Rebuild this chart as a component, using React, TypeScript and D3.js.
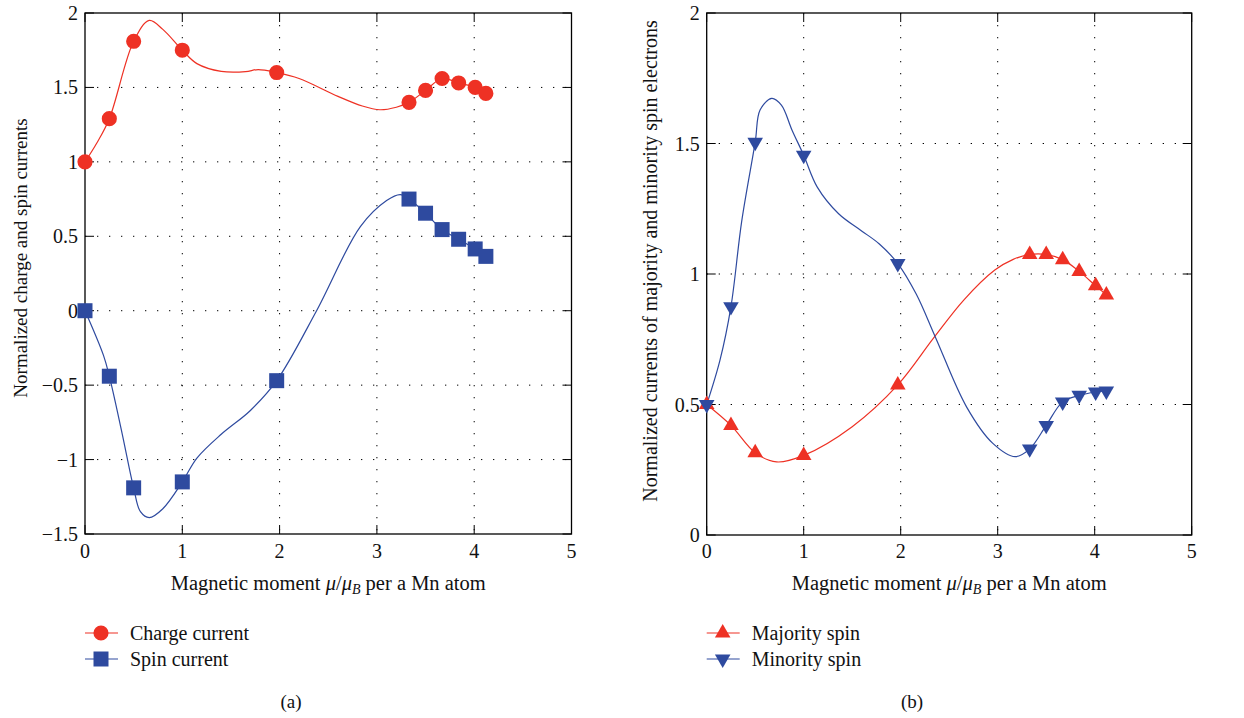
import * as d3 from "d3";

// markers: magnetic moment per Mn atom
const momentX = [0, 0.25, 0.5, 1, 1.97, 3.33, 3.5, 3.67, 3.84, 4.01, 4.12];
const chargeCurrent = [1.0, 1.29, 1.81, 1.75, 1.6, 1.4, 1.48, 1.56, 1.53, 1.5, 1.46];
const spinCurrent = [0, -0.44, -1.19, -1.15, -0.47, 0.75, 0.655, 0.545, 0.48, 0.415, 0.365];
const majoritySpin = [0.5, 0.42, 0.315, 0.305, 0.575, 1.075, 1.075, 1.055, 1.01, 0.955, 0.92];
const minoritySpin = [0.5, 0.875, 1.505, 1.455, 1.04, 0.33, 0.42, 0.51, 0.535, 0.548, 0.552];

// smooth traces, knots
const chargeCurveX = [0, 0.12, 0.25, 0.5, 0.66, 0.8, 1.0, 1.15, 1.4, 1.65, 1.78, 1.97, 2.2, 2.6, 2.85, 3.03, 3.2, 3.33, 3.5, 3.67, 3.84, 4.01, 4.12];
const chargeCurveY = [1.0, 1.125, 1.29, 1.81, 1.95, 1.89, 1.75, 1.66, 1.608, 1.606, 1.62, 1.6, 1.56, 1.44, 1.375, 1.35, 1.367, 1.4, 1.48, 1.56, 1.53, 1.5, 1.46];
const spinCurveX = [0, 0.19, 0.25, 0.38, 0.5, 0.57, 0.66, 0.8, 1.0, 1.15, 1.4, 1.7, 1.97, 2.38, 2.83, 3.1, 3.24, 3.33, 3.5, 3.67, 3.84, 4.01, 4.12];
const spinCurveY = [0, -0.3, -0.44, -0.82, -1.19, -1.35, -1.39, -1.33, -1.15, -0.99, -0.83, -0.67, -0.47, 0.0, 0.565, 0.74, 0.78, 0.75, 0.655, 0.545, 0.48, 0.415, 0.365];
const majCurveX = [0, 0.25, 0.5, 0.72, 1.0, 1.5, 1.97, 2.34, 2.65, 2.97, 3.16, 3.33, 3.5, 3.67, 3.84, 4.01, 4.12];
const majCurveY = [0.5, 0.42, 0.315, 0.28, 0.305, 0.415, 0.575, 0.755, 0.9, 1.015, 1.056, 1.075, 1.075, 1.055, 1.01, 0.955, 0.92];
const minCurveX = [0, 0.137, 0.25, 0.36, 0.5, 0.55, 0.67, 0.77, 0.88, 1.0, 1.14, 1.36, 1.59, 1.78, 1.97, 2.16, 2.36, 2.68, 2.95, 3.18, 3.33, 3.5, 3.67, 3.84, 4.01, 4.12];
const minCurveY = [0.5, 0.67, 0.875, 1.2, 1.505, 1.628, 1.673, 1.647, 1.551, 1.455, 1.333, 1.231, 1.167, 1.115, 1.04, 0.923, 0.756, 0.49, 0.351, 0.3, 0.33, 0.42, 0.51, 0.535, 0.548, 0.552];

const xTicks = [0, 1, 2, 3, 4, 5];
const yTicksA = [-1.5, -1, -0.5, 0, 0.5, 1, 1.5, 2];
const yTicksB = [0, 0.5, 1, 1.5, 2];

const RED = "#ee3124";
const BLUE = "#2e4a9f";
const FONT = "'Liberation Serif', 'Times New Roman', serif";

const fmt = (d) => (d < 0 ? "\u2212" + Math.abs(d) : String(d));

const circle = d3.symbol(d3.symbolCircle, 180)();
const square = d3.symbol(d3.symbolSquare, 225)();
const tri = d3.symbol(d3.symbolTriangle, 105)();

function Marker({ x, y, shape, color, flip }) {
  const d = shape === "circle" ? circle : shape === "square" ? square : tri;
  return <path d={d} fill={color} transform={`translate(${x},${y})${flip ? " rotate(180)" : ""}`} />;
}

function XLabel({ cx }) {
  return (
    <text x={cx} y={590} textAnchor="middle" fontSize={20.5}>
      Magnetic moment <tspan fontStyle="italic">μ</tspan>/<tspan fontStyle="italic">μ</tspan>
      <tspan fontStyle="italic" fontSize={14} dy={4}>B</tspan>
      <tspan dy={-4}> per a Mn atom</tspan>
    </text>
  );
}

function Panel({ left, right, top, bottom, yDomain, yTicks, yLabel, yLabelX, yLabelY, yLabelSize, series, tag, tagX }) {
  const x = d3.scaleLinear().domain([0, 5]).range([left, right]);
  const y = d3.scaleLinear().domain(yDomain).range([bottom, top]);
  const line = d3.line().curve(d3.curveCatmullRom.alpha(0.5));
  const cx = (left + right) / 2;
  return (
    <g>
      {/* dotted grid */}
      {xTicks.slice(1, -1).map((t) => (
        <line key={"gx" + t} x1={x(t)} x2={x(t)} y1={top} y2={bottom} stroke="#000" strokeWidth={1} strokeDasharray="1.3 10.7" />
      ))}
      {yTicks.slice(1, -1).map((t) => (
        <line key={"gy" + t} x1={left} x2={right} y1={y(t)} y2={y(t)} stroke="#000" strokeWidth={1} strokeDasharray="1.3 10.7" />
      ))}
      {/* inward ticks on all sides */}
      {xTicks.map((t) => (
        <g key={"tx" + t}>
          <line x1={x(t)} x2={x(t)} y1={bottom} y2={bottom - 9} stroke="#000" />
          <line x1={x(t)} x2={x(t)} y1={top} y2={top + 9} stroke="#000" />
          <text x={x(t)} y={558} textAnchor="middle" fontSize={20}>{fmt(t)}</text>
        </g>
      ))}
      {yTicks.map((t) => (
        <g key={"ty" + t}>
          <line x1={left} x2={left + 9} y1={y(t)} y2={y(t)} stroke="#000" />
          <line x1={right} x2={right - 9} y1={y(t)} y2={y(t)} stroke="#000" />
          <text x={left - 7} y={y(t) + 7} textAnchor="end" fontSize={20}>{fmt(t)}</text>
        </g>
      ))}
      <rect x={left} y={top} width={right - left} height={bottom - top} fill="none" stroke="#000" strokeWidth={1.3} />
      {series.map((s) => (
        <path key={s.name + "c"} d={line(s.curveX.map((v, i) => [x(v), y(s.curveY[i])]))} fill="none" stroke={s.color} strokeWidth={1.2} />
      ))}
      {series.map((s) =>
        momentX.map((v, i) => (
          <Marker key={s.name + i} x={x(v)} y={y(s.values[i])} shape={s.shape} color={s.color} flip={s.flip} />
        ))
      )}
      <text transform={`translate(${yLabelX},${yLabelY}) rotate(-90)`} textAnchor="middle" fontSize={yLabelSize}>{yLabel}</text>
      <XLabel cx={cx} />
      {/* legend */}
      {series.map((s, i) => {
        const ly = 633 + i * 26;
        return (
          <g key={s.name + "lg"}>
            <line x1={left} x2={left + 33} y1={ly} y2={ly} stroke={s.color} strokeWidth={1.2} />
            <Marker x={left + 16} y={ly} shape={s.shape} color={s.color} flip={s.flip} />
            <text x={left + 45} y={ly + 6.5} fontSize={20}>{s.name}</text>
          </g>
        );
      })}
      <text x={tagX} y={708} textAnchor="middle" fontSize={19}>{tag}</text>
    </g>
  );
}

export default function App() {
  const seriesA = [
    { name: "Charge current", curveX: chargeCurveX, curveY: chargeCurveY, values: chargeCurrent, color: RED, shape: "circle", flip: false },
    { name: "Spin current", curveX: spinCurveX, curveY: spinCurveY, values: spinCurrent, color: BLUE, shape: "square", flip: false },
  ];
  const seriesB = [
    { name: "Majority spin", curveX: majCurveX, curveY: majCurveY, values: majoritySpin, color: RED, shape: "tri", flip: false },
    { name: "Minority spin", curveX: minCurveX, curveY: minCurveY, values: minoritySpin, color: BLUE, shape: "tri", flip: true },
  ];
  return (
    <svg width={1244} height={718} style={{ position: "absolute", left: 0, top: 0, background: "#fff" }} fontFamily={FONT} fill="#111">
      <Panel left={85} right={571.5} top={13} bottom={534} yDomain={[-1.5, 2]} yTicks={yTicksA}
        yLabel="Normalized charge and spin currents" yLabelX={27} yLabelY={258} yLabelSize={19}
        series={seriesA} tag="(a)" tagX={291} />
      <Panel left={706.7} right={1191.7} top={13} bottom={535} yDomain={[0, 2]} yTicks={yTicksB}
        yLabel="Normalized currents of majority and minority spin electrons" yLabelX={657} yLabelY={261} yLabelSize={20}
        series={seriesB} tag="(b)" tagX={912} />
    </svg>
  );
}
